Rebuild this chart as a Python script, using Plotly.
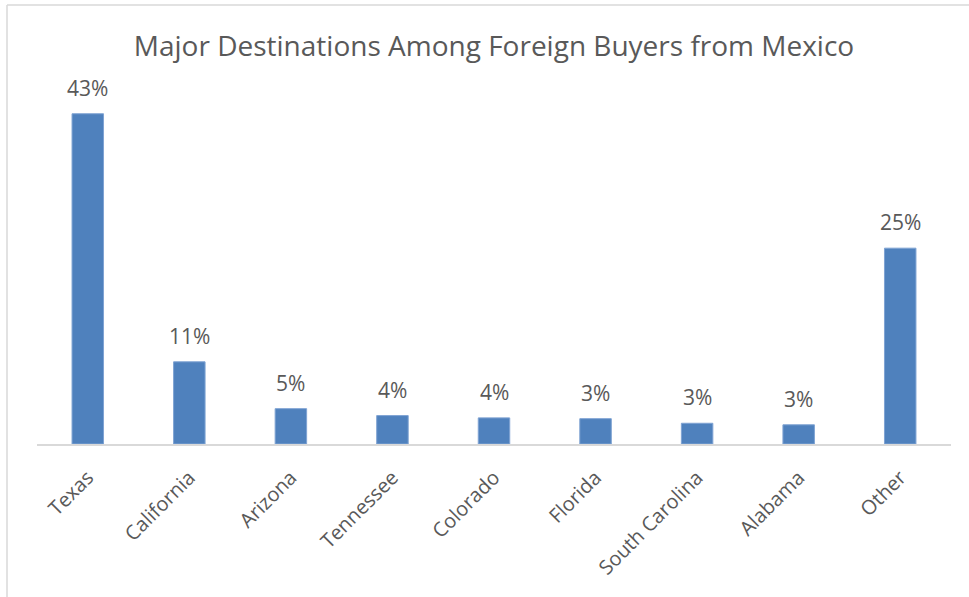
import plotly.graph_objects as go

categories = ["Texas", "California", "Arizona", "Tennessee", "Colorado",
              "Florida", "South Carolina", "Alabama", "Other"]
values = [43.0, 10.7, 4.6, 3.7, 3.4, 3.3, 2.7, 2.5, 25.5]
labels = ["43%", "11%", "5%", "4%", "4%", "3%", "3%", "3%", "25%"]

TEXT = "#595959"
FONT = "Open Sans"

fig = go.Figure()
fig.add_trace(go.Bar(
    x=categories, y=values,
    marker=dict(color="#4F81BD", line=dict(color="#7FA3D3", width=1)),
    hoverinfo="skip",
))

annotations = []
for c, v, t in zip(categories, values, labels):
    annotations.append(dict(
        x=c, y=v, text=t, showarrow=False, xref="x", yref="y",
        yanchor="bottom", yshift=10,
        font=dict(family=FONT, size=21, color=TEXT),
    ))

L, R, T, B = 37, 18, 60, 153
W, H = 969, 597
pw, ph = W - L - R, H - T - B
def px(x): return (x - L) / pw
def py(y): return (H - B - y) / ph

shapes = [
    dict(type="line", xref="paper", yref="paper",
         x0=px(7), x1=px(7), y0=py(597), y1=py(5),
         line=dict(color="#D9D9D9", width=1.5)),
    dict(type="line", xref="paper", yref="paper",
         x0=px(7), x1=px(969), y0=py(5), y1=py(5),
         line=dict(color="#D9D9D9", width=1.5)),
]

fig.update_layout(
    width=W, height=H,
    margin=dict(l=L, r=R, t=T, b=B, autoexpand=False),
    paper_bgcolor="white", plot_bgcolor="white",
    bargap=0.69,
    showlegend=False,
    title=dict(text="Major Destinations Among Foreign Buyers from Mexico",
               x=0.5, xanchor="center", xref="paper",
               y=1 - 46 / H, yanchor="middle", yref="container",
               font=dict(family=FONT, size=28, color=TEXT)),
    xaxis=dict(showline=True, linecolor="#D9D9D9", linewidth=2,
               showgrid=False, tickangle=-45, ticks="",
               automargin=False, ticklabelstandoff=12,
               tickfont=dict(family=FONT, size=20, color=TEXT)),
    yaxis=dict(range=[0, 50], visible=False, showgrid=False, zeroline=False,
               automargin=False),
    annotations=annotations,
    shapes=shapes,
)

fig.write_html("out.html", config={"displayModeBar": False, "staticPlot": True})

with open("out.html", "r", encoding="utf-8") as f:
    html = f.read()
html = html.replace("<head>", "<head><style>html,body{margin:0;padding:0;overflow:hidden;}</style>", 1)
with open("out.html", "w", encoding="utf-8") as f:
    f.write(html)
